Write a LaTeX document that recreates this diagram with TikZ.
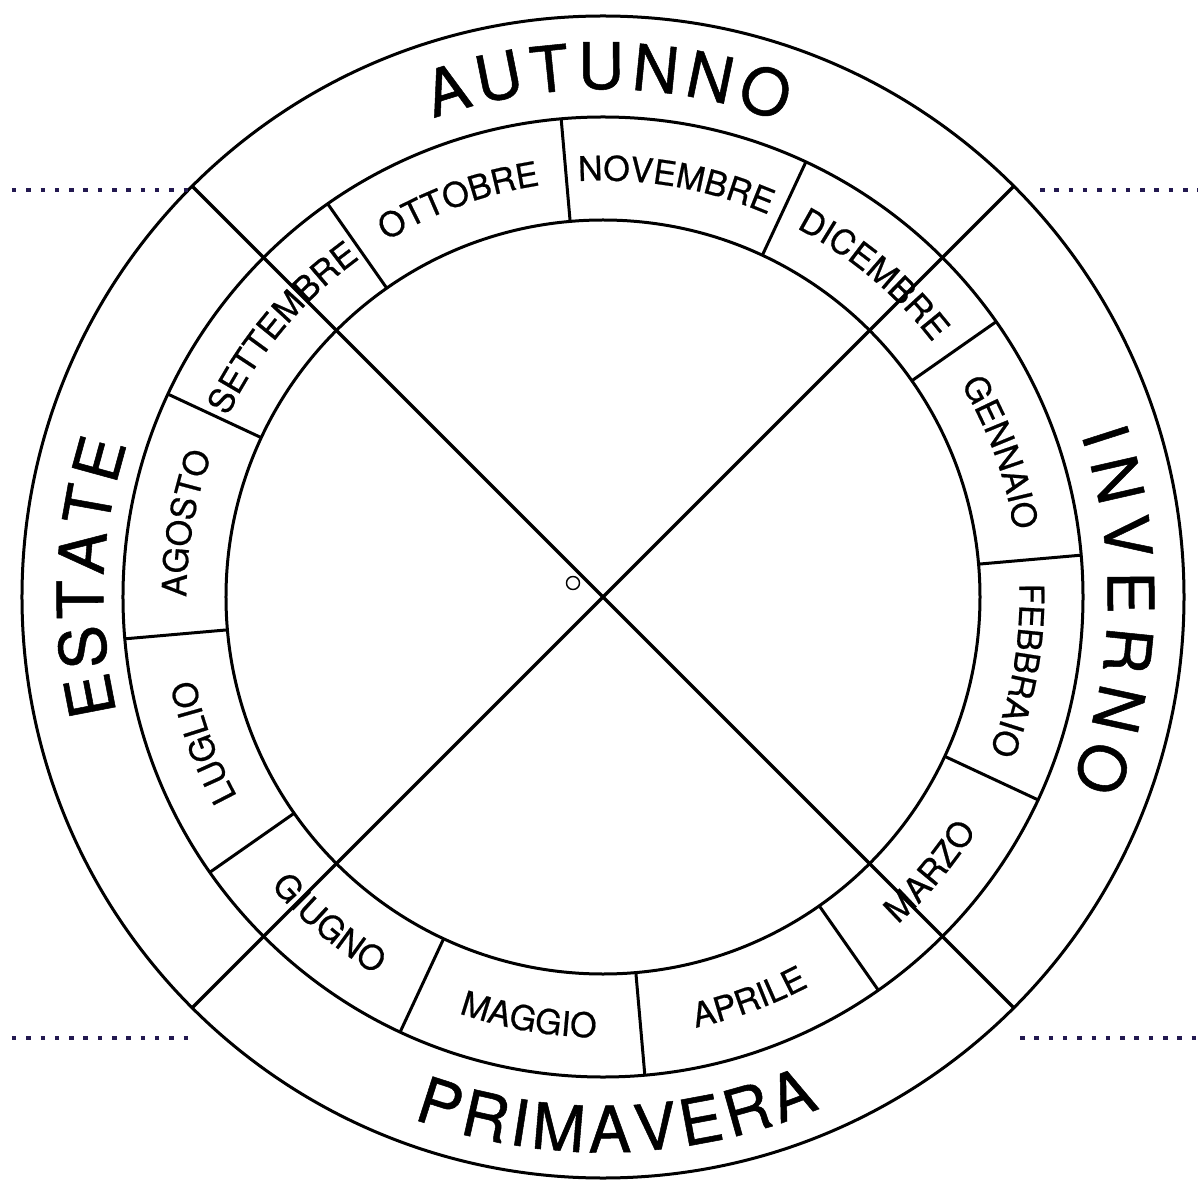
\documentclass[tikz,border=0pt]{standalone}
\usepackage{fontspec}
\setmainfont{TeX Gyre Heros}
\newfontfamily\monthfam[FakeBold=0.6]{TeX Gyre Heros}
\newfontfamily\seasonfam[FakeBold=0.8]{TeX Gyre Heros}
\usetikzlibrary{decorations.text}
\definecolor{dotblue}{RGB}{35,25,80}
\newcommand{\monthfont}{\monthfam\fontsize{34}{34}\selectfont}
\newcommand{\seasonfont}{\seasonfam\fontsize{64}{64}\selectfont}
\newcommand{\monthcw}[2]{%
  \path[decorate, decoration={text along path, text={|\monthfont|#2}, text align=center}]
    ({#1+25}:416.5pt) arc[start angle={#1+25}, end angle={#1-25}, radius=416.5pt];}
\newcommand{\monthccw}[2]{%
  \path[decorate, decoration={text along path, text={|\monthfont|#2}, text align=center}]
    ({#1-25}:440.5pt) arc[start angle={#1-25}, end angle={#1+25}, radius=440.5pt];}
\begin{document}
\begin{tikzpicture}[x=1pt,y=1pt,
  ring/.style={line width=3pt},
  divider/.style={line width=3pt},
  cross/.style={line width=3.4pt},
  dotline/.style={dotblue, line width=4.5pt, dash pattern=on 4.5pt off 9.8pt},
  seasonletter/.style={inner sep=0pt, font=\seasonfont},
  marker/.style={draw, circle, minimum size=13pt, inner sep=0pt, line width=1.4pt},
]
\useasboundingbox (-603,-583) rectangle (595,597);
\coordinate (C) at (0,0);
% rings
\draw[ring] (C) circle[radius=581pt];
\draw[ring] (C) circle[radius=480pt];
\draw[ring] (C) circle[radius=377pt];
% month dividers
\foreach \a [count=\i] in {5,35,...,335}{
  \coordinate (mi\i) at (\a:377pt);
  \coordinate (mo\i) at (\a:480pt);
  \draw[divider] (mi\i) -- (mo\i);
}
% season cross
\coordinate (x1) at (45:581pt);
\coordinate (x2) at (225:581pt);
\coordinate (x3) at (135:581pt);
\coordinate (x4) at (315:581pt);
\draw[cross] (x1) -- (x2);
\draw[cross] (x3) -- (x4);
% small marker
\node[marker] (mk) at (-30,14) {};
% dotted lines
\coordinate (d1a) at (-591,407); \coordinate (d1b) at (-415,407);
\coordinate (d2a) at (437,407);  \coordinate (d2b) at (595,407);
\coordinate (d3a) at (-591,-441); \coordinate (d3b) at (-415,-441);
\coordinate (d4a) at (417,-441); \coordinate (d4b) at (595,-441);
\draw[dotline] (d1a) -- (d1b);
\draw[dotline] (d2a) -- (d2b);
\draw[dotline] (d3a) -- (d3b);
\draw[dotline] (d4a) -- (d4b);
% months
\monthcw{80}{NOVEMBRE}
\monthcw{110}{OTTOBRE}
\monthcw{140}{SETTEMBRE}
\monthcw{170}{AGOSTO}
\monthcw{200}{LUGLIO}
\monthccw{230}{GIUGNO}
\monthccw{260}{MAGGIO}
\monthccw{290}{APRILE}
\monthccw{320}{MARZO}
\monthcw{350}{FEBBRAIO}
\monthcw{20}{GENNAIO}
\monthcw{50}{DICEMBRE}
% seasons
\foreach \l/\a [count=\i] in {A/107.1, U/101.35, T/95.78, U/90.21, N/84.27, N/78.32, O/72.18}
  \node[seasonletter, rotate=\a-90] (aut\i) at (\a:531pt) {\l};
\foreach \l/\a [count=\i] in {I/17.8, N/12.86, V/6.58, E/0.48, R/-5.8, N/-12.28, O/-18.95}
  \node[seasonletter, rotate=\a-90] (inv\i) at (\a:528pt) {\l};
\foreach \l/\a [count=\i] in {E/190.93, S/185.52, T/180.3, A/175.09, T/169.87, E/164.66}
  \node[seasonletter, rotate=\a-90] (est\i) at (\a:523pt) {\l};
\foreach \l/\a [count=\i] in {P/252.2, R/257.3, I/261.07, M/265.23, A/270.72, V/275.65, E/280.57, R/285.67, A/290.78}
  \node[seasonletter, rotate=\a+90] (pri\i) at (\a:532pt) {\l};
\end{tikzpicture}
\end{document}
